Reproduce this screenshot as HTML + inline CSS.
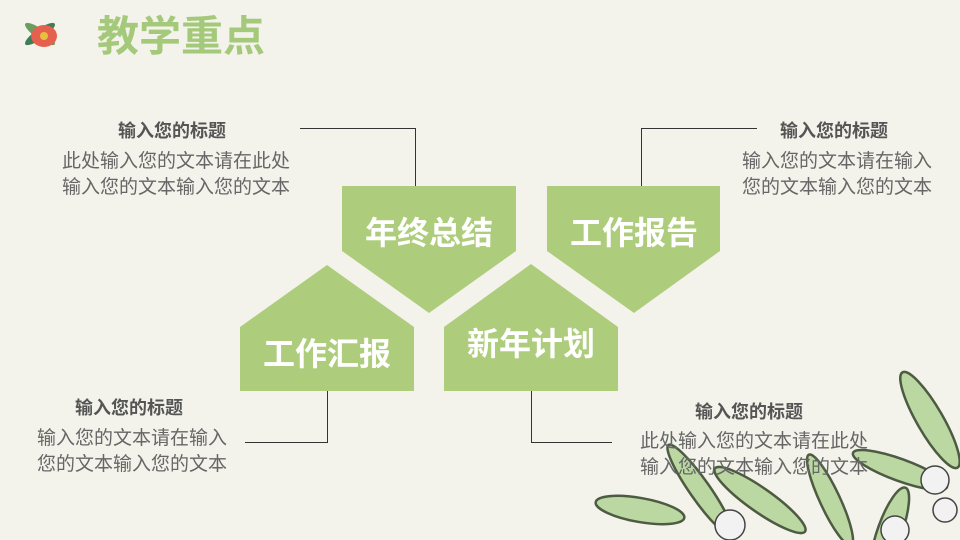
<!DOCTYPE html>
<html><head><meta charset="utf-8"><style>
html,body{margin:0;overflow:hidden;width:960px;height:540px}
#s{position:relative;width:960px;height:540px;overflow:hidden;background:#f3f3eb;font-family:"Liberation Sans","Noto Sans CJK SC",sans-serif}
.t{position:absolute;font-weight:bold;font-size:18px;color:#555;white-space:nowrap;line-height:24px}
.b{position:absolute;font-size:19px;color:#666;line-height:26px;white-space:nowrap}
.lbl{position:absolute;color:#fff;font-weight:bold;font-size:32px;line-height:40px;white-space:nowrap;text-align:center;width:174px}
</style></head><body><div id="s">
<svg width="960" height="540" viewBox="0 0 960 540" style="position:absolute;left:0;top:0;display:block">
<g fill="#aecd7c">
<polygon points="342,186 516,186 516,251 429,313 342,251"/>
<polygon points="547,186 720,186 720,251 634,313 547,251"/>
<polygon points="327,265 414,327 414,391 240,391 240,327"/>
<polygon points="531,264 618,327 618,391 444,391 444,327"/>
</g>
<g stroke="#333" stroke-width="1" fill="none">
<polyline points="300,128.5 415.5,128.5 415.5,186"/>
<polyline points="757,128.5 641.5,128.5 641.5,186"/>
<polyline points="327.5,391 327.5,442.5 245,442.5"/>
<polyline points="531.5,391 531.5,442.5 612,442.5"/>
</g>
<g stroke="#3a4a30" stroke-width="2.5" fill="#b5d49a" opacity="0.9">
<ellipse cx="930" cy="420" rx="55" ry="13" transform="rotate(60 930 420)"/>
<ellipse cx="900" cy="470" rx="50" ry="11" transform="rotate(20 900 470)"/>
<ellipse cx="640" cy="510" rx="45" ry="12" transform="rotate(10 640 510)"/>
<ellipse cx="700" cy="490" rx="55" ry="10" transform="rotate(55 700 490)"/>
<ellipse cx="760" cy="500" rx="55" ry="12" transform="rotate(35 760 500)"/>
<ellipse cx="830" cy="500" rx="50" ry="10" transform="rotate(65 830 500)"/>
<ellipse cx="890" cy="530" rx="45" ry="12" transform="rotate(-70 890 530)"/>
</g>
<g fill="#f2f2f2" stroke="#444" stroke-width="1.5">
<circle cx="935" cy="480" r="14"/><circle cx="945" cy="510" r="12"/>
<circle cx="730" cy="525" r="15"/><circle cx="895" cy="530" r="14"/>
</g>
<g>
<ellipse cx="40" cy="34" rx="18" ry="5" fill="#3f7d55" transform="rotate(-35 40 34)"/>
<ellipse cx="40" cy="34" rx="18" ry="5" fill="#6a9e60" transform="rotate(35 40 34)"/>
<ellipse cx="44" cy="36" rx="13" ry="11" fill="#e5604e"/>
<ellipse cx="44" cy="36" rx="4" ry="4" fill="#e8c040"/>
</g>
</svg>
<div style="position:absolute;left:97px;top:12px;font-size:42px;line-height:50px;font-weight:bold;color:#a4c97a">教学重点</div>
<div class="lbl" style="left:342px;top:213px">年终总结</div>
<div class="lbl" style="left:547px;top:213px">工作报告</div>
<div class="lbl" style="left:240px;top:334px">工作汇报</div>
<div class="lbl" style="left:444px;top:324px">新年计划</div>
<div class="t" style="left:118px;top:119px">输入您的标题</div>
<div class="b" style="left:62px;top:149px">此处输入您的文本请在此处<br>输入您的文本输入您的文本</div>
<div class="t" style="left:780px;top:119px">输入您的标题</div>
<div class="b" style="left:742px;top:149px">输入您的文本请在输入<br>您的文本输入您的文本</div>
<div class="t" style="left:75px;top:396px">输入您的标题</div>
<div class="b" style="left:37px;top:426px">输入您的文本请在输入<br>您的文本输入您的文本</div>
<div class="t" style="left:695px;top:400px">输入您的标题</div>
<div class="b" style="left:640px;top:429px">此处输入您的文本请在此处<br>输入您的文本输入您的文本</div>
</div></body></html>
